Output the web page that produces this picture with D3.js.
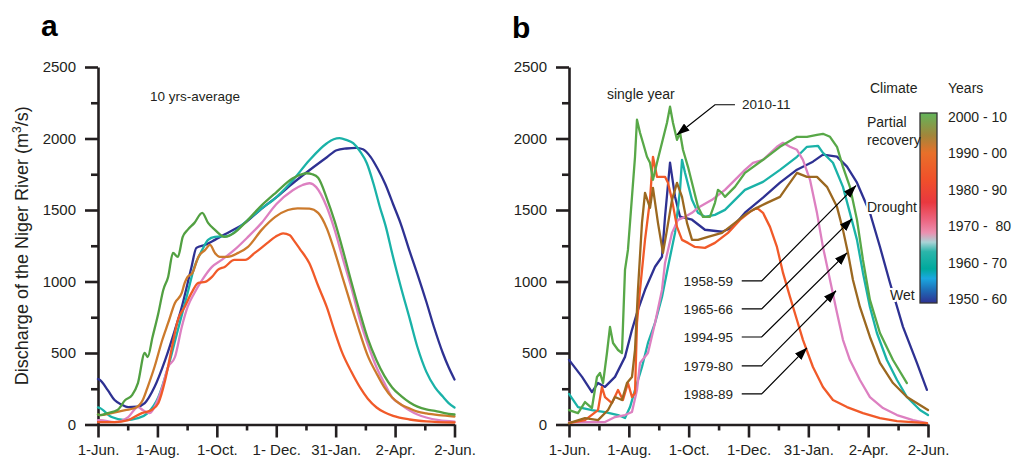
<!DOCTYPE html>
<html><head><meta charset="utf-8">
<script src="https://cdn.jsdelivr.net/npm/d3@7"></script>
<style>
html,body{margin:0;padding:0;background:#fff;}
svg{display:block;font-family:"Liberation Sans",Arial,Helvetica,sans-serif;}
</style></head><body>
<svg id="chart" width="1012" height="460"></svg>
<script>
// ---------- ticks ----------
const majorTickDays = [0, 61, 122, 183, 244, 305, 366];
const minorTickDays = [30.5, 91.5, 152.5, 213.5, 274.5, 335.5];
const xTickLabelsA = ["1-Jun.", "1-Aug.", "1-Oct.", "1- Dec.", "31-Jan.", "2-Apr.", "2-Jun."];
const xTickLabelsB = ["1-Jun.", "1-Aug.", "1-Oct.", "1-Dec.", "31-Jan.", "2-Apr.", "2-Jun."];
const yTicks = [0, 500, 1000, 1500, 2000, 2500];
const yMinorTicks = [250, 750, 1250, 1750, 2250];

// ---------- panel a : 10-year averages [day since 1 June, m3/s] ----------
const avg1950s = [[0,318],[2,311],[10,240],[17,171],[24,140],[31,122],[40,125],[48,150],[58,262],[69,452],[79,662],[86,822],[96,1102],[101,1235],[110,1256],[120,1291],[133,1340],[151,1410],[166,1498],[183,1589],[200,1687],[217,1778],[235,1869],[245,1918],[255,1930],[265,1935],[272,1925],[280,1870],[287,1790],[295,1680],[303,1540],[311,1400],[320,1210],[328,1050],[337,860],[345,680],[354,500],[360,400],[366,315]];
const avg1960s = [[0,120],[2,115],[14,52],[28,31],[41,45],[51,80],[62,192],[72,402],[82,662],[92,920],[99,1102],[107,1221],[113,1291],[120,1312],[133,1318],[151,1414],[166,1500],[183,1589],[200,1708],[217,1848],[235,1967],[242,1995],[248,2002],[255,1990],[262,1967],[269,1910],[276,1827],[283,1680],[289,1530],[296,1370],[302,1197],[311,960],[320,740],[328,540],[337,370],[346,260],[354,195],[360,150],[366,119]];
const avg1970s = [[0,30],[2,31],[17,17],[31,52],[41,122],[46,101],[53,80],[60,150],[66,262],[72,402],[79,472],[86,682],[92,822],[99,920],[107,1011],[117,1102],[127,1151],[140,1221],[154,1312],[168,1410],[183,1540],[200,1638],[210,1675],[217,1687],[224,1660],[235,1519],[243,1360],[251,1169],[260,960],[269,728],[277,560],[286,399],[294,290],[302,189],[311,140],[320,98],[328,70],[337,49],[350,30],[366,20]];
const avg1980s = [[0,17],[2,17],[17,17],[31,31],[45,80],[55,101],[62,150],[69,311],[76,542],[82,731],[89,822],[96,920],[103,990],[110,997],[117,1032],[123,1081],[130,1102],[140,1151],[151,1151],[161,1200],[174,1270],[182,1312],[190,1337],[197,1323],[201,1288],[207,1230],[217,1127],[226,970],[235,819],[243,650],[251,497],[260,370],[269,259],[277,180],[286,119],[294,85],[303,60],[320,35],[337,22],[366,14]];
const avg1990s = [[0,70],[2,66],[14,80],[28,101],[38,115],[46,171],[51,262],[58,402],[66,591],[72,710],[79,850],[86,920],[89,990],[92,1032],[97,1060],[103,1172],[110,1221],[115,1256],[120,1200],[125,1172],[133,1172],[144,1200],[154,1242],[168,1361],[182,1452],[195,1500],[205,1512],[217,1510],[226,1480],[235,1370],[243,1210],[251,1030],[260,830],[269,637],[277,480],[286,357],[294,260],[302,189],[311,140],[320,112],[328,90],[337,77],[350,65],[366,56]];
const avg2000s = [[0,70],[2,66],[10,80],[20,101],[28,171],[35,206],[41,290],[48,500],[51,472],[56,612],[62,780],[67,941],[72,1032],[77,1200],[82,1172],[87,1312],[92,1361],[99,1410],[107,1480],[113,1410],[120,1361],[130,1312],[140,1340],[151,1410],[166,1519],[183,1624],[200,1722],[207,1745],[214,1757],[220,1750],[226,1725],[235,1580],[243,1420],[251,1230],[260,1000],[269,780],[277,600],[286,448],[294,340],[302,259],[311,200],[320,154],[328,125],[337,105],[346,95],[356,80],[366,70]];

// ---------- panel b : single years ----------
const year1958 = [[0,452],[13.3,333],[23.4,227],[29.6,291],[36.7,263],[46.9,333],[57.1,473],[64.2,662],[70.3,802],[77.5,942],[87.7,1103],[94.8,1173],[97.9,1453],[103,1831],[108.1,1593],[113.2,1453],[125.4,1432],[138.6,1362],[156,1348],[166.2,1376],[179.4,1481],[197.8,1586],[215.1,1691],[232.4,1782],[248.7,1838],[258.9,1887],[273.2,1873],[283.4,1803],[293.6,1691],[306.8,1481],[317,1243],[327.2,991],[340.5,683],[354.7,431],[364.9,242]];
const year1965 = [[0,214],[9.2,122],[23.4,101],[36.7,87],[50,66],[57.1,45],[62.2,122],[67.3,241],[74.4,402],[80.5,570],[87.7,710],[94.8,892],[100.9,1102],[108.1,1340],[113.2,1641],[115.2,1851],[118.3,1760],[125.4,1571],[131.5,1480],[138.6,1452],[148.8,1466],[159,1501],[169.2,1571],[179.4,1641],[197.8,1697],[215.1,1781],[232.4,1872],[242.6,1942],[253.8,1949],[258.9,1900],[269.1,1830],[279.3,1662],[286.4,1480],[293.6,1291],[299.7,1060],[306.8,822],[313.9,640],[324.1,451],[334.4,311],[344.5,192],[357.8,101],[366,66]];
const year1979 = [[0,17],[16.3,17],[36.7,17],[46.9,52],[57.1,66],[64.2,87],[69.3,241],[72.4,430],[80.5,500],[87.7,710],[94.8,941],[97.9,1130],[105,1340],[111.1,1431],[118.3,1452],[125.4,1480],[131.5,1515],[145.8,1571],[159,1641],[172.3,1732],[179.4,1781],[187.6,1830],[197.8,1851],[212,1942],[218.2,1970],[225.3,1942],[232.4,1921],[238.5,1851],[245.7,1711],[252.8,1480],[258.9,1242],[266.1,1011],[273.2,781],[279.3,592],[286.4,451],[296.6,311],[306.8,192],[320.1,115],[334.4,66],[350.7,31],[365,10]];
const year1988 = [[0,10],[16.3,31],[29.6,101],[33.6,262],[36.7,192],[43.8,150],[50,241],[55,171],[60.1,290],[64.2,192],[67.3,220],[69.3,710],[72.4,941],[77.5,1291],[82.6,1571],[85.6,1872],[89.7,1732],[94.8,1732],[97.9,1732],[100.9,1690],[105,1571],[110.1,1382],[115.2,1291],[121.3,1270],[128.4,1242],[138.6,1235],[148.8,1270],[162.1,1340],[174.3,1431],[184.5,1487],[191.6,1515],[197.8,1480],[204.9,1382],[212,1242],[218.2,1060],[225.3,892],[232.4,731],[238.5,592],[248.7,402],[258.9,262],[269.1,171],[283.4,122],[299.7,80],[317,45],[334.4,24],[365,10]];
const year1994 = [[0,10],[16.3,45],[29.6,31],[39.8,101],[46.9,192],[54,171],[59.1,290],[64.2,332],[67.3,521],[70.3,941],[74.4,1410],[77.5,1620],[82.6,1515],[85.6,1655],[90.7,1410],[95.8,1200],[99.9,1361],[105,1571],[110.1,1690],[115.2,1592],[120.3,1410],[125.4,1291],[131.5,1291],[141.7,1312],[156,1340],[169.2,1410],[179.4,1466],[187.6,1501],[201.8,1550],[215.1,1592],[222.2,1662],[232.4,1760],[242.6,1732],[252.8,1732],[263,1662],[273.2,1522],[279.3,1361],[284.4,1200],[289.5,1011],[296.6,822],[306.8,612],[317,431],[330.3,290],[344.5,192],[366,101]];
const year2010 = [[0,101],[9.2,80],[16.3,157],[23.4,115],[28.5,332],[31.6,360],[34.7,290],[38.7,500],[41.8,682],[44.9,570],[50,521],[54,500],[57.1,1081],[60.1,1221],[64.2,1592],[67.3,1872],[69.3,2131],[72.4,2040],[75.4,1970],[79.5,1872],[82.6,1830],[85.6,1711],[89.7,1830],[94.8,1970],[99.9,2110],[103,2222],[106,2110],[110.1,1991],[113.2,2040],[116.2,1921],[121.3,1802],[126.4,1662],[131.5,1522],[136.6,1452],[143.7,1452],[148.8,1550],[151.9,1641],[155.9,1620],[159,1592],[169.2,1662],[179.4,1760],[197.8,1851],[215.1,1942],[232.4,2012],[242.6,2012],[252.8,2026],[258.9,2033],[266.1,2012],[273.2,1942],[279.3,1802],[286.4,1662],[293.6,1431],[299.7,1151],[306.8,871],[317,640],[330.3,451],[344.5,290]];

// ---------- legend ----------
const legendYears = ["2000 - 10", "1990 - 00", "1980 - 90", "1970 -  80", "1960 - 70", "1950 - 60"];
const climateLabels = ["Partial", "recovery", "Drought", "Wet"];
const rowLabelsB = ["1958-59", "1965-66", "1994-95", "1979-80", "1988-89"];

// ---------- styles ----------
const C = {
  blue: "#2e3192", teal: "#1ab2a8", pink: "#dd80c1", red: "#f15a29",
  orange: "#cc7a2c", brown: "#9b6820", greenA: "#52a042", greenB: "#58a848", ink: "#231f20"
};

const svg = d3.select("#chart");
svg.append("rect").attr("width", 1012).attr("height", 460).attr("fill", "#fff");

const yScale = d3.scaleLinear().domain([0, 2500]).range([424.5, 67]);
const xA = d3.scaleLinear().domain([0, 366]).range([98, 454.5]);
const xB = d3.scaleLinear().domain([0, 366]).range([569, 928]);

function drawAxes(x, labels) {
  const g = svg.append("g");
  g.append("g").attr("transform", `translate(0,${yScale(0)})`)
    .call(d3.axisBottom(x).tickValues(majorTickDays).tickFormat((d, i) => labels[i])
      .tickSize(13).tickPadding(7).tickSizeOuter(0));
  const gxm = g.append("g").attr("transform", `translate(0,${yScale(0)})`)
    .call(d3.axisBottom(x).tickValues(minorTickDays).tickFormat("").tickSize(6).tickSizeOuter(0));
  gxm.select(".domain").remove();
  g.append("g").attr("transform", `translate(${x(0)},0)`)
    .call(d3.axisLeft(yScale).tickValues(yTicks).tickFormat(d3.format("d"))
      .tickSize(13).tickPadding(9).tickSizeOuter(0));
  const gym = g.append("g").attr("transform", `translate(${x(0)},0)`)
    .call(d3.axisLeft(yScale).tickValues(yMinorTicks).tickFormat("").tickSize(7).tickSizeOuter(0));
  gym.select(".domain").remove();
  g.selectAll(".domain").attr("stroke", C.ink).attr("stroke-width", 2.6);
  g.selectAll(".tick line").attr("stroke", C.ink).attr("stroke-width", 2.6);
  g.selectAll(".tick text").attr("fill", C.ink).style("font-size", "15px")
    .style("font-family", '"Liberation Sans",Arial,sans-serif');
  g.selectAll("text").style("white-space", "pre");
}
drawAxes(xA, xTickLabelsA);
drawAxes(xB, xTickLabelsB);

function drawLines(x, series, curve) {
  const line = d3.line().x(d => x(d[0])).y(d => yScale(d[1])).curve(curve);
  svg.append("g").selectAll("path").data(series).join("path")
    .attr("d", s => line(s.data)).attr("fill", "none")
    .attr("stroke", s => s.color).attr("stroke-width", 2.3)
    .attr("stroke-linejoin", "round").attr("stroke-linecap", "round");
}

drawLines(xA, [
  {data: avg1950s, color: C.blue},
  {data: avg1960s, color: C.teal},
  {data: avg1970s, color: C.pink},
  {data: avg1980s, color: C.red},
  {data: avg1990s, color: C.orange},
  {data: avg2000s, color: C.greenA}
], d3.curveMonotoneX);

drawLines(xB, [
  {data: year1958, color: C.blue},
  {data: year1965, color: C.teal},
  {data: year1979, color: C.pink},
  {data: year1988, color: C.red},
  {data: year1994, color: C.brown},
  {data: year2010, color: C.greenB}
], d3.curveLinear);

// panel letters and titles
svg.append("text").attr("x", 41).attr("y", 36).text("a")
  .attr("font-weight", "bold").attr("font-size", 30).attr("fill", "#000");
svg.append("text").attr("x", 512).attr("y", 38).text("b")
  .attr("font-weight", "bold").attr("font-size", 30).attr("fill", "#000");

const yt = svg.append("text").attr("transform", `translate(28,${(yScale(0) + yScale(2500)) / 2}) rotate(-90)`)
  .attr("text-anchor", "middle").attr("font-size", 18).attr("fill", C.ink);
yt.append("tspan").text("Discharge of the Niger River (m");
yt.append("tspan").text("3").attr("font-size", 12).attr("dy", -7);
yt.append("tspan").text("/s)").attr("dy", 7);

svg.append("text").attr("x", xA(53.3)).attr("y", yScale(2264)).text("10 yrs-average")
  .attr("font-size", 13.5).attr("fill", C.ink);
svg.append("text").attr("x", xB(38.7)).attr("y", yScale(2278)).text("single year")
  .attr("font-size", 14).attr("fill", C.ink);

// annotation arrows (data coordinates)
const defs = svg.append("defs");
defs.append("marker").attr("id", "arr").attr("viewBox", "0 0 13 9")
  .attr("refX", 12.5).attr("refY", 4.5).attr("markerWidth", 13).attr("markerHeight", 9)
  .attr("markerUnits", "userSpaceOnUse").attr("orient", "auto")
  .append("path").attr("d", "M0,0 L13,4.5 L0,9 Z").attr("fill", "#000");

const arrowLine = d3.line().x(d => xB(d[0])).y(d => yScale(d[1]));
svg.append("path").attr("d", arrowLine([[169.2, 2236], [148.8, 2236], [110.1, 2026]]))
  .attr("fill", "none").attr("stroke", "#000").attr("stroke-width", 1.2).attr("marker-end", "url(#arr)");
svg.append("text").attr("x", xB(176.4)).attr("y", yScale(2236)).attr("dy", "0.35em")
  .text("2010-11").attr("font-size", 13.5).attr("fill", C.ink);

const rowVals = [1004, 808, 612, 410, 214];
const tips = [[292.6, 1670], [288.5, 1438], [283.4, 1200], [272.2, 935], [242.6, 536]];
rowLabelsB.forEach((lab, i) => {
  svg.append("text").attr("x", xB(167.2)).attr("y", yScale(rowVals[i])).attr("dy", "0.35em")
    .attr("text-anchor", "end").text(lab).attr("font-size", 13.5).attr("fill", C.ink);
  svg.append("path").attr("d", arrowLine([[176.1, rowVals[i]], [196.4, rowVals[i]], tips[i]]))
    .attr("fill", "none").attr("stroke", "#000").attr("stroke-width", 1.2).attr("marker-end", "url(#arr)");
});

// legend colour bar
const grad = defs.append("linearGradient").attr("id", "cbar").attr("x1", 0).attr("y1", 0).attr("x2", 0).attr("y2", 1);
[[0, "#62b55a"], [0.12, "#a3853a"], [0.21, "#e8702a"], [0.35, "#f0502a"], [0.47, "#e9383f"],
 [0.57, "#ec6985"], [0.63, "#eb90b0"], [0.68, "#a9d3d6"], [0.73, "#2bb5aa"], [0.82, "#00a99d"],
 [0.87, "#1aa8e0"], [0.93, "#1e6fb8"], [1, "#2e3192"]].forEach(s =>
  grad.append("stop").attr("offset", s[0]).attr("stop-color", s[1]));
svg.append("rect").attr("x", 920).attr("y", 113).attr("width", 17).attr("height", 190)
  .attr("fill", "url(#cbar)").attr("stroke", "#333").attr("stroke-width", 1.3);

const yearPos = d3.scaleLinear().domain([0, legendYears.length - 1]).range([117, 299]);
svg.append("g").selectAll("text").data(legendYears).join("text")
  .attr("x", 948).attr("y", (d, i) => yearPos(i)).attr("dy", "0.35em")
  .style("white-space", "pre").text(d => d).attr("font-size", 14).attr("fill", C.ink);
svg.append("text").attr("x", 948).attr("y", 88).attr("dy", "0.35em").text("Years").attr("font-size", 14).attr("fill", C.ink);
svg.append("text").attr("x", 870).attr("y", 88).attr("dy", "0.35em").text("Climate").attr("font-size", 14).attr("fill", C.ink);

const climPos = [[867, 122], [867, 140], [867, 207], [890, 295]];
climateLabels.forEach((lab, i) => {
  svg.append("text").attr("x", climPos[i][0]).attr("y", climPos[i][1]).attr("dy", "0.35em")
    .text(lab).attr("font-size", 14).attr("fill", C.ink)
    .attr("stroke", i >= 2 ? "#fff" : "none").attr("stroke-width", 4).attr("paint-order", "stroke");
});
</script>
</body></html>
